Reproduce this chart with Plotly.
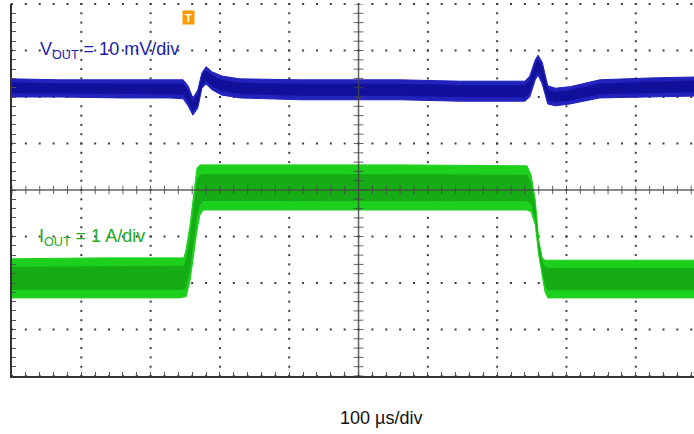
import plotly.graph_objects as go

# ---- Data (time in µs, signal position in screen divisions) ----
# VOUT channel (10 mV/div): noise-band envelope
vout_t = [0, 69, 156, 228, 247, 254, 261, 268, 274, 280, 289, 303, 329, 416, 560, 646,
          740, 747, 755, 759, 765, 773, 784, 805, 848, 921, 984]
vout_hi = [2.39, 2.37, 2.37, 2.37, 2.37, 2.24, 1.98, 2.15, 2.52, 2.65, 2.54, 2.45, 2.39,
           2.37, 2.37, 2.34, 2.34, 2.45, 2.80, 2.90, 2.75, 2.24, 2.19, 2.22, 2.37, 2.41, 2.43]
vout_lo = [2.00, 2.00, 1.98, 1.98, 1.96, 1.81, 1.61, 1.76, 2.19, 2.28, 2.15, 2.04, 1.98,
           1.94, 1.94, 1.91, 1.91, 2.00, 2.37, 2.47, 2.28, 1.85, 1.81, 1.85, 1.98, 2.00, 2.02]

# IOUT channel (1 A/div): noise-band envelope
iout_t = [0, 127, 242, 248, 251, 257, 263, 267, 271, 276, 416, 560, 743, 749, 755, 760,
          765, 769, 773, 848, 984]
iout_hi = [-1.48, -1.46, -1.46, -1.46, -1.29, -0.75, 0.00, 0.47, 0.54, 0.54, 0.54, 0.54,
           0.52, 0.32, -0.22, -1.08, -1.46, -1.51, -1.51, -1.51, -1.51]
iout_lo = [-2.32, -2.32, -2.32, -2.30, -2.30, -1.94, -1.29, -0.86, -0.54, -0.43, -0.43, -0.43,
           -0.43, -0.47, -0.75, -1.40, -1.83, -2.19, -2.32, -2.32, -2.32]

x_label = "100 µs/div"
vout_label = "V<sub>OUT</sub> = 10 mV/div"
iout_label = "I<sub>OUT</sub> = 1 A/div"
trigger_time = 255
time_per_div = 100
n_div_x = 10
n_div_y = 8
x_visible = 984

AXC = "rgba(70,70,70,0.85)"

fig = go.Figure()

# ---- Dotted graticule ----
gx, gy = [], []
for d in range(1, n_div_x):
    if d == 5:
        continue
    for k in range(0, n_div_y * 5 + 1):
        gx.append(d * time_per_div)
        gy.append(-4 + k * 0.2)
for d in range(-4, 5):
    if d == 0:
        continue
    for k in range(0, n_div_x * 5 + 1):
        xv = k * time_per_div / 5
        if xv <= x_visible:
            gx.append(xv)
            gy.append(d)
fig.add_trace(go.Scatter(x=gx, y=gy, mode="markers", cliponaxis=False,
                         marker=dict(symbol="square", size=2, color="#3c3c3c"),
                         hoverinfo="skip", showlegend=False))


def band(t, hi, lo, outer, inner):
    xs = list(t) + list(t)[::-1]
    ys = list(hi) + list(lo)[::-1]
    fig.add_trace(go.Scatter(x=xs, y=ys, fill="toself", mode="lines",
                             line=dict(color=outer, width=1), fillcolor=outer,
                             hoverinfo="skip", showlegend=False))
    c = [(a + b) / 2 for a, b in zip(hi, lo)]
    h = [(a - b) / 2 * 0.6 for a, b in zip(hi, lo)]
    ih = [ci + hi_ for ci, hi_ in zip(c, h)]
    il = [ci - hi_ for ci, hi_ in zip(c, h)]
    fig.add_trace(go.Scatter(x=list(t) + list(t)[::-1], y=ih + il[::-1], fill="toself",
                             mode="lines", line=dict(color=inner, width=0), fillcolor=inner,
                             hoverinfo="skip", showlegend=False))


band(vout_t, vout_hi, vout_lo, "#2222bc", "#10109a")
band(iout_t, iout_hi, iout_lo, "#1ed01e", "#15ac15")

# ---- Centre lines with minor ticks ----
fig.add_shape(type="line", x0=500, x1=500, y0=-4, y1=4, layer="above",
              line=dict(color=AXC, width=1.5))
fig.add_shape(type="line", x0=0, x1=x_visible, y0=0, y1=0, layer="above",
              line=dict(color=AXC, width=1.5))
tx = [k * time_per_div / 5 for k in range(0, n_div_x * 5 + 1) if k * time_per_div / 5 <= x_visible]
fig.add_trace(go.Scatter(x=tx, y=[0] * len(tx), mode="markers",
                         marker=dict(symbol="line-ns-open", size=6, color=AXC,
                                     line=dict(color=AXC, width=1)),
                         hoverinfo="skip", showlegend=False))
ty = [-4 + k * 0.2 for k in range(0, n_div_y * 5 + 1)]
fig.add_trace(go.Scatter(x=[500] * len(ty), y=ty, mode="markers",
                         marker=dict(symbol="line-ew-open", size=7, color=AXC,
                                     line=dict(color=AXC, width=1)),
                         hoverinfo="skip", showlegend=False))

# ---- Trigger position marker at top ----
fig.add_trace(go.Scatter(x=[500], y=[4.02], mode="markers", cliponaxis=False,
                         marker=dict(symbol="triangle-down", size=8, color="#ff9900"),
                         hoverinfo="skip", showlegend=False))

fig.add_annotation(x=trigger_time, y=3.72, text="<b>T</b>", showarrow=False,
                   font=dict(family="Arial", size=11, color="white"),
                   bgcolor="#ff9a00", width=11, height=13, borderpad=0)

fig.add_annotation(x=38, y=3.0, text=vout_label, showarrow=False, xanchor="left",
                   font=dict(family="Arial", size=18, color="#1c1cae"))
fig.add_annotation(x=36, y=-1.02, text=iout_label, showarrow=False, xanchor="left",
                   font=dict(family="Arial", size=18, color="#22aa22"))
fig.add_annotation(x=0.541, y=0, xref="paper", yref="paper", text=x_label,
                   yanchor="middle", yshift=-42,
                   showarrow=False, font=dict(family="Arial", size=18, color="#111111"))

fig.update_xaxes(range=[0, x_visible], showgrid=False, zeroline=False, showticklabels=False,
                 showline=True, linecolor="#333333", linewidth=2, automargin=False,
                 ticks="inside", tick0=0, dtick=time_per_div / 5, ticklen=4,
                 tickcolor="#555555", tickwidth=1)
fig.update_yaxes(range=[-4, 4], showgrid=False, zeroline=False, showticklabels=False,
                 showline=True, linecolor="#333333", linewidth=2, automargin=False,
                 ticks="inside", tick0=-4, dtick=0.2, ticklen=4,
                 tickcolor="#555555", tickwidth=1)

fig.update_layout(width=694, height=434, margin=dict(l=12, r=0, t=4, b=58, autoexpand=False),
                  plot_bgcolor="white", paper_bgcolor="white", showlegend=False)

fig.write_html("out.html", config={"displayModeBar": False},
               post_script="document.body.style.margin='0';document.body.style.overflow='hidden';")
